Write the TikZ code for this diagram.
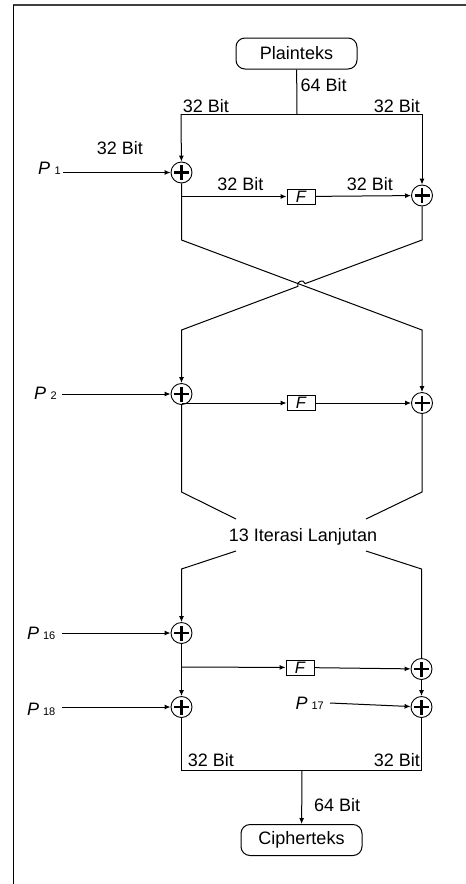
\documentclass[tikz,border=0pt]{standalone}
\usepackage{fontspec}
\setmainfont{Liberation Sans}
\usetikzlibrary{arrows.meta}
\begin{document}
\begin{tikzpicture}[x=1pt,y=-1pt,
  every node/.style={font=\fontsize{18}{20}\selectfont},
  ln/.style={line width=1pt},
  arr/.style={line width=1pt,-{Latex[length=6pt,width=5pt]}},
  xorn/.style={circle,draw,line width=0.9pt,minimum size=21pt,inner sep=0pt,
    path picture={
      \draw[line width=2.6pt] ([xshift=-7.5pt]path picture bounding box.center) -- ([xshift=7.5pt]path picture bounding box.center);
      \draw[line width=2.6pt] ([yshift=-7.5pt]path picture bounding box.center) -- ([yshift=7.5pt]path picture bounding box.center);
    }},
  termbox/.style={draw,line width=1pt,rounded corners=9pt,minimum width=121pt,minimum height=31pt,inner sep=0pt},
  fbox/.style={draw,line width=0.9pt,minimum width=28pt,minimum height=15pt,inner sep=0pt,font=\fontsize{16.5}{18}\selectfont\itshape},
  lbl/.style={inner sep=0pt},
  plbl/.style={inner sep=0pt,anchor=base east},
]
\useasboundingbox (0,0) rectangle (466,884);
% frame
\draw[line width=1.6pt,black!75] (13,5) -- (466,5);
\draw[line width=1pt] (13,5) -- (13,884);

% top
\node[termbox] (plain) at (296.5,53.5) {Plainteks};
\coordinate (split) at (297,114);
\coordinate (lc) at (181,114);
\coordinate (rc) at (422,114);
\draw[ln] (plain) -- (split);
\draw[ln] (lc) -- (rc);
\node[lbl,anchor=west] (l64a) at (300.5,85) {64 Bit};
\node[lbl] (l32a) at (206,106) {32 Bit};
\node[lbl] (l32b) at (397,106) {32 Bit};

% round 1
\node[xorn] (x1l) at (181.5,172.5) {};
\node[xorn] (x1r) at (422,195.5) {};
\node[fbox] (f1) at (301,196.5) {F};
\coordinate (b1) at (181.5,196.5);
\draw[arr] (lc) -- (x1l);
\draw[arr] (rc) -- (x1r);
\draw[arr] (b1) -- (f1);
\draw[arr] (f1) -- (x1r);
\node[lbl] (l32c) at (240.5,184.5) {32 Bit};
\node[lbl] (l32d) at (370,184.5) {32 Bit};
\node[lbl] (l32e) at (120,148.5) {32 Bit};
\node[plbl] (p1) at (61,174.5) {\textit{P}\hspace{4.5pt}{\fontsize{11}{11}\selectfont 1}};
\coordinate (a1) at (63,172.5);
\draw[arr] (a1) -- (x1l);

% round 2
\node[xorn] (x2l) at (181.5,394) {};
\node[xorn] (x2r) at (422,403) {};
\node[fbox] (f2) at (301,403) {F};
\coordinate (b2) at (181.5,403);
\draw[arr] (x1l) -- (181.5,240) -- (422,330) -- (x2r);
\draw[arr] (x1r) -- (422,240) -- (305.2,283.6) .. controls (303.4,278.6) and (296,281.4) .. (297.8,286.4) -- (181.5,330) -- (x2l);
\draw[arr] (b2) -- (f2);
\draw[arr] (f2) -- (x2r);
\node[plbl] (p2) at (57,399) {\textit{P}\hspace{4.5pt}{\fontsize{11}{11}\selectfont 2}};
\coordinate (a2) at (62,394);
\draw[arr] (a2) -- (x2l);

% 13 iterations
\node[lbl] (iter) at (303,537) {13 Iterasi Lanjutan};
\draw[ln] (x2l) -- (181.5,492) -- (236,519);
\draw[ln] (x2r) -- (422,492) -- (366,519);

% last rounds
\node[xorn] (x16l) at (181.5,633) {};
\node[xorn] (x16r) at (421.5,669) {};
\node[xorn] (x17) at (421.5,707) {};
\node[xorn] (x18) at (181.5,707) {};
\node[fbox] (f3) at (300,667.5) {F};
\coordinate (b3) at (181.5,667);
\draw[arr] (236,551) -- (181.5,569) -- (x16l);
\draw[ln] (366,551) -- (421.5,569) -- (x16r);
\draw[arr] (b3) -- (f3);
\draw[arr] (f3) -- (x16r);
\draw[arr] (x16r) -- (x17);
\draw[arr] (x16l) -- (x18);
\node[plbl] (p16) at (55.5,639) {\textit{P}\hspace{4pt}{\fontsize{11}{11}\selectfont 16}};
\node[plbl] (p18) at (55.5,715) {\textit{P}\hspace{4pt}{\fontsize{11}{11}\selectfont 18}};
\node[plbl] (p17) at (324,709) {\textit{P}\hspace{4pt}{\fontsize{11}{11}\selectfont 17}};
\coordinate (a16) at (62,633);
\coordinate (a18) at (62,707);
\coordinate (a17) at (330,703);
\draw[arr] (a16) -- (x16l);
\draw[arr] (a18) -- (x18);
\draw[arr] (a17) -- (x17);

% bottom
\coordinate (bl) at (181.5,770);
\coordinate (br) at (421.5,770);
\coordinate (bm) at (302,770);
\draw[ln] (x18) -- (bl) -- (br) -- (x17);
\node[termbox] (cipher) at (301.5,840) {Cipherteks};
\draw[arr] (bm) -- (cipher);
\node[lbl] (l32f) at (211,760) {32 Bit};
\node[lbl] (l32g) at (397,760) {32 Bit};
\node[lbl,anchor=west] (l64b) at (314,805) {64 Bit};
\end{tikzpicture}
\end{document}
